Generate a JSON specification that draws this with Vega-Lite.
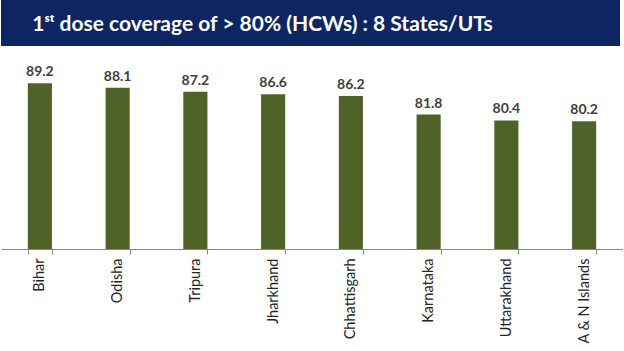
{
  "$schema": "https://vega.github.io/schema/vega-lite/v6.json",
  "padding": {"left": -7, "top": 0, "right": 0, "bottom": 0},
  "spacing": 0,
  "background": "white",
  "config": {"view": {"stroke": null}},
  "vconcat": [
    {
      "width": 619,
      "height": 46,
      "view": {"fill": "#0e2563", "stroke": null},
      "data": {"values": [{"title": "1ˢᵗ dose coverage of > 80% (HCWs) : 8 States/UTs"}]},
      "mark": {"type": "text", "color": "white", "font": "Lato", "fontWeight": "bold", "fontSize": 21, "dx": -48, "dy": 2, "align": "center", "baseline": "middle"},
      "encoding": {"text": {"field": "title"}}
    },
    {
      "width": 622,
      "height": 203,
      "data": {"values": [
        {"state": "Bihar", "coverage": 89.2},
        {"state": "Odisha", "coverage": 88.1},
        {"state": "Tripura", "coverage": 87.2},
        {"state": "Jharkhand", "coverage": 86.6},
        {"state": "Chhattisgarh", "coverage": 86.2},
        {"state": "Karnataka", "coverage": 81.8},
        {"state": "Uttarakhand", "coverage": 80.4},
        {"state": "A & N Islands", "coverage": 80.2}
      ]},
      "encoding": {
        "x": {"field": "state", "type": "nominal", "sort": null,
          "scale": {"paddingInner": 0.69, "paddingOuter": 0.345},
          "axis": {"title": null, "labelAngle": -90, "labelFont": "Lato", "labelFontSize": 14.5, "labelColor": "#262626", "labelPadding": 4, "tickBand": "extent", "tickSize": 5, "tickColor": "#868686", "domainColor": "#868686", "labelLimit": 200}},
        "y": {"field": "coverage", "type": "quantitative",
          "scale": {"domain": [50, 98], "zero": false, "nice": false},
          "axis": {"orient": "right", "title": null, "labels": false, "ticks": false, "grid": false, "domainColor": "#b0b0b0"}}
      },
      "layer": [
        {"mark": {"type": "bar", "color": "#4f6228", "clip": true}},
        {"mark": {"type": "text", "font": "Lato", "fontWeight": "bold", "fontSize": 14, "color": "#404040", "baseline": "alphabetic", "dy": -7},
         "encoding": {"text": {"field": "coverage", "type": "quantitative", "format": ".1f"}}}
      ]
    }
  ]
}
